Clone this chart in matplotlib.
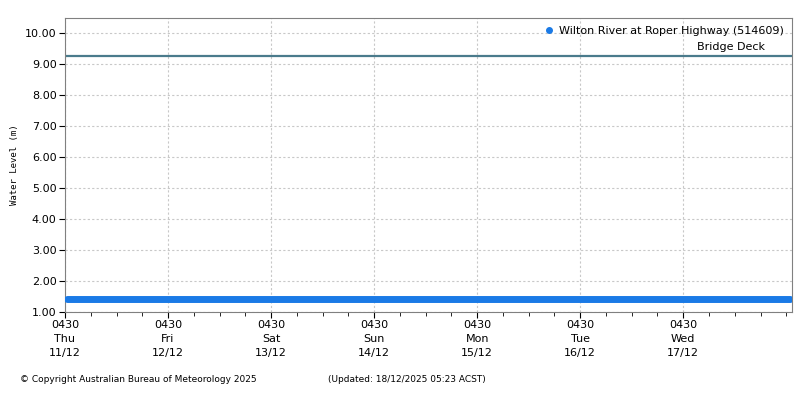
import numpy as np
import matplotlib.pyplot as plt
from datetime import datetime, timedelta

# readings every 6 hours, 11/12 04:30 to 18/12 04:30, last at update time
start = datetime(2025, 12, 11, 4, 30)
levels = [1.42, 1.42, 1.42, 1.42, 1.42, 1.42, 1.42, 1.42, 1.42, 1.42,
          1.42, 1.42, 1.42, 1.42, 1.42, 1.42, 1.42, 1.42, 1.42, 1.42,
          1.42, 1.42, 1.42, 1.42, 1.42, 1.42, 1.42, 1.42, 1.42]
times = [start + timedelta(hours=6 * i) for i in range(len(levels))]
times[0] = datetime(2025, 12, 11, 5, 0)
times[-1] = datetime(2025, 12, 18, 5, 23)

bridge_deck = 9.28
day_names = ['Thu', 'Fri', 'Sat', 'Sun', 'Mon', 'Tue', 'Wed']
day_dates = ['11/12', '12/12', '13/12', '14/12', '15/12', '16/12', '17/12']

fig = plt.figure(figsize=(8, 4), dpi=100)
ax = fig.add_axes([0.08125, 0.22, 0.90875, 0.735])

ax.plot(times, levels, color='#1a7ae6', lw=5, solid_capstyle='round', zorder=3,
        label='Wilton River at Roper Highway (514609)')
ax.axhline(bridge_deck, color='#4a7b8c', lw=1.6, zorder=2)
ax.text(0.963, bridge_deck + 0.12, 'Bridge Deck', transform=ax.get_yaxis_transform(),
        ha='right', va='bottom', fontsize=8)

ax.set_ylim(1.0, 10.5)
ax.set_yticks(np.arange(1, 11, 1.0))
ax.set_yticklabels(['%.2f' % v for v in np.arange(1, 11, 1.0)], fontsize=8)
ax.set_ylabel('Water Level (m)', family='DejaVu Sans Mono', fontsize=6.5, labelpad=4)

ax.set_xlim(start, datetime(2025, 12, 18, 5, 50))
major = [start + timedelta(days=i) for i in range(7)]
ax.set_xticks(major)
ax.set_xticklabels(['0430\n%s\n%s' % (d, n) for d, n in zip(day_names, day_dates)],
                   fontsize=8, linespacing=1.45)
minor = [start + timedelta(hours=6 * i) for i in range(29)]
ax.set_xticks(minor, minor=True)

ax.grid(True, which='major', color='#c8c8c8', linestyle=(0, (2, 2)), lw=0.8)
ax.tick_params(axis='both', which='major', length=4, color='black', pad=2)
ax.tick_params(axis='x', which='minor', length=3, color='black')
for s in ax.spines.values():
    s.set_color('#808080')

ax.legend(loc='upper right', frameon=False, fontsize=8, handlelength=0.6,
          handletextpad=0.6, borderaxespad=0.3)
h = ax.get_legend().legend_handles[0]
h.set_linestyle('none')
h.set_marker('o')
h.set_markersize(4)

fig.text(0.025, 0.045, '\u00a9 Copyright Australian Bureau of Meteorology 2025', fontsize=6.5)
fig.text(0.41, 0.045, '(Updated: 18/12/2025 05:23 ACST)', fontsize=6.5)

fig.savefig('out.png', dpi=100)
